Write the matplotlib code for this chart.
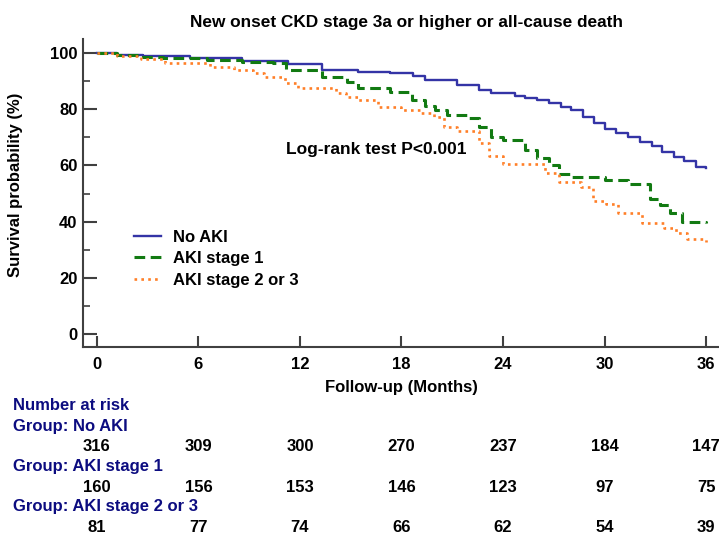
import matplotlib
matplotlib.use("Agg")
import matplotlib.pyplot as plt
import matplotlib.transforms as mtransforms
from matplotlib.ticker import MultipleLocator

plt.rcParams['font.family'] = ['Liberation Sans', 'DejaVu Sans']
plt.rcParams['font.weight'] = 'bold'

# Kaplan-Meier step curves (month where each step starts, survival %)
t_no_aki = [0, 1.2, 2.7, 5.5, 8.6, 11.3, 13.3, 15.4, 17.3, 18.7, 19.4, 21.3, 22.6, 23.3,
            24.7, 25.3, 26.0, 26.7, 27.4, 28.0, 28.7, 29.4, 30.0, 30.7, 31.4, 32.1, 32.8,
            33.4, 34.1, 34.7, 35.4, 36.0]
s_no_aki = [100, 99.4, 98.9, 98.1, 97.3, 96.0, 94.0, 93.4, 92.8, 91.8, 90.4, 88.6, 86.8, 85.9,
            84.7, 83.9, 83.3, 82.1, 80.7, 79.7, 77.3, 75.0, 72.8, 71.4, 70.0, 68.4, 66.9,
            64.9, 63.1, 61.7, 59.5, 59.0]

t_aki1 = [0, 1.2, 2.5, 3.9, 6.5, 8.6, 10.4, 11.2, 13.3, 14.8, 15.4, 17.3, 18.6, 19.4, 20.0,
          20.7, 21.9, 22.6, 23.3, 24.0, 25.3, 26.0, 26.7, 27.3, 28.0, 30.0, 31.4, 32.7, 33.3,
          33.9, 34.6, 36.0]
s_aki1 = [100, 99.4, 98.7, 98.1, 97.5, 96.9, 96.3, 94.0, 91.6, 89.8, 87.4, 86.0, 83.3, 81.1, 79.7,
          77.9, 76.7, 73.5, 70.0, 69.0, 65.5, 62.5, 60.1, 56.9, 56.0, 54.8, 53.4, 48.2, 45.9,
          42.9, 40.0, 39.5]

t_aki23 = [0, 1.2, 2.6, 4.0, 6.7, 8.1, 9.2, 9.9, 11.1, 11.9, 14.1, 14.7, 15.4, 16.6, 18.0, 19.1,
           19.9, 20.5, 21.3, 22.6, 23.2, 24.0, 26.5, 27.3, 28.6, 29.3, 30.1, 30.8, 32.2, 33.5,
           34.2, 34.9, 36.0]
s_aki23 = [100, 98.9, 97.7, 96.3, 95.1, 94.0, 92.8, 91.6, 89.2, 87.4, 85.6, 84.4, 83.3, 80.7, 79.7, 78.5,
           77.1, 73.8, 72.4, 67.8, 63.3, 60.4, 57.4, 54.2, 52.4, 47.4, 46.1, 42.9, 39.4, 37.6,
           35.8, 33.8, 32.8]

risk_months = [0, 6, 12, 18, 24, 30, 36]
risk_no_aki = [316, 309, 300, 270, 237, 184, 147]
risk_aki1 = [160, 156, 153, 146, 123, 97, 75]
risk_aki23 = [81, 77, 74, 66, 62, 54, 39]

W, H = 719, 535
fig = plt.figure(figsize=(W / 100, H / 100), dpi=100)
ax = fig.add_axes([83 / W, (H - 347) / H, 1 - 83 / W, (347 - 39) / H])

ax.plot(t_no_aki, s_no_aki, drawstyle='steps-post', color='#3434a6', lw=1.7, label='No AKI')
ax.plot(t_aki1, s_aki1, drawstyle='steps-post', color='#127a12', lw=2.2,
        dashes=(3.5, 1.8), label='AKI stage 1')
ax.plot(t_aki23, s_aki23, drawstyle='steps-post', color='#ff7f27', lw=1.9,
        dashes=(1, 1.6), label='AKI stage 2 or 3')

ax.set_xlim(-14 / 16.92, 36 + 13 / 16.92)
ax.set_ylim(-13 / 2.81, 100 + 14 / 2.81)
ax.set_xticks(risk_months)
ax.yaxis.set_major_locator(MultipleLocator(20))
ax.set_yticks(range(10, 100, 20), minor=True)

for side in ['top', 'right']:
    ax.spines[side].set_visible(False)
for side in ['left', 'bottom']:
    ax.spines[side].set_linewidth(1.5)
    ax.spines[side].set_color('#404040')

ax.tick_params(axis='y', which='major', direction='in', length=10, width=1.5,
               color='#404040', labelsize=12, pad=4)
ax.tick_params(axis='y', which='minor', direction='in', length=5, width=1.2, color='#404040')
ax.tick_params(axis='x', direction='in', length=8, width=1.5, color='#404040',
               labelsize=12, pad=7)

ttl = ax.set_title('New onset CKD stage 3a or higher or all-cause death', fontsize=12.4,
                   fontweight='bold', pad=9)
ttl.set_x(0.508)
ax.set_ylabel('Survival probability (%)', fontsize=12, fontweight='bold')
ax.yaxis.set_label_coords(-0.094, 0.526)
ax.set_xlabel('Follow-up (Months)', fontsize=12, fontweight='bold', labelpad=6)

ax.text(11.2, 65.5, 'Log-rank test P<0.001', fontsize=12.5, fontweight='bold', va='center')

ax.legend(loc='upper left', bbox_to_anchor=(0.057, 0.43), frameon=False, fontsize=12,
          handlelength=1.6, handletextpad=0.75, labelspacing=0.4)

# number-at-risk table below the axes
navy = '#0c0c80'
trans = mtransforms.blended_transform_factory(ax.transData, fig.transFigure)
fig.text(13 / W, 1 - 405 / H, 'Number at risk', color=navy, fontsize=12, va='center')
rows = [('Group: No AKI', risk_no_aki, 426),
        ('Group: AKI stage 1', risk_aki1, 467),
        ('Group: AKI stage 2 or 3', risk_aki23, 507)]
for name, counts, ypix in rows:
    fig.text(13 / W, 1 - ypix / H, name, color=navy, fontsize=12, va='center')
    for m, n in zip(risk_months, counts):
        ax.text(m, 1 - (ypix + 20.5) / H, str(n), transform=trans, ha='center',
                va='center', fontsize=12, clip_on=False)

fig.savefig('out.png', dpi=100)
